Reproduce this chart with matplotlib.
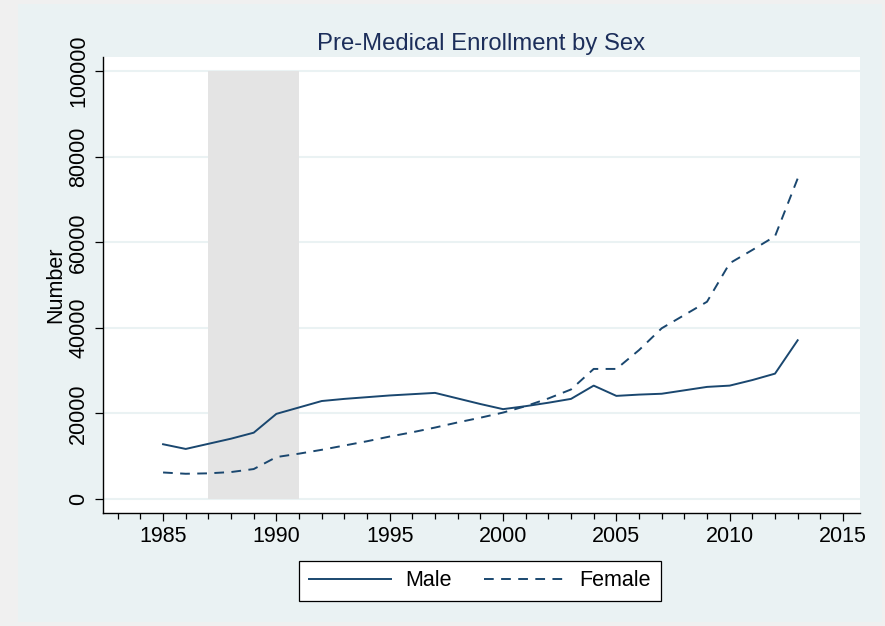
import matplotlib.pyplot as plt
from matplotlib.patches import Rectangle
from matplotlib.ticker import MultipleLocator

# --- Data ---------------------------------------------------------------------
years = list(range(1985, 2014))
male = [12.8, 11.7, 12.9, 14.1, 15.5, 19.9, 21.4, 22.9, 23.4, 23.8, 24.2,
        24.5, 24.8, 23.5, 22.2, 21.0, 21.7, 22.5, 23.4, 26.5, 24.1, 24.4,
        24.6, 25.4, 26.2, 26.5, 27.8, 29.3, 37.1]
female = [6.2, 5.9, 6.0, 6.3, 7.0, 9.8, 10.6, 11.5, 12.5, 13.5, 14.6, 15.6,
          16.7, 17.9, 19.0, 20.2, 21.7, 23.5, 25.6, 30.4, 30.4, 34.8, 39.9,
          43.0, 46.1, 55.1, 58.2, 61.4, 74.9]
male = [v * 1000 for v in male]
female = [v * 1000 for v in female]
shade_span = (1987, 1991)
shade_top = 100000

# --- Style --------------------------------------------------------------------
plt.rcParams['font.family'] = ['Liberation Sans', 'DejaVu Sans']
navy = "#1a476f"
title_navy = "#1c2e5a"
bg_blue = "#eaf2f3"
fs = 15.5

W, H = 885, 626
fig = plt.figure(figsize=(W / 100, H / 100), dpi=100, facecolor="#f0f0f0")
fig.patches.append(Rectangle((18 / W, 4 / H), (882 - 18) / W, (622 - 4) / H,
                             transform=fig.transFigure, facecolor=bg_blue,
                             edgecolor="none", zorder=-5))

ax = fig.add_axes([103 / W, (H - 513) / H, (860 - 103) / W, (513 - 57) / H])
ax.set_zorder(2)
ax.set_facecolor("white")

# shaded band, 0..shade_top
ax.fill_between(shade_span, 0, shade_top, facecolor="#e4e4e4", edgecolor="none", zorder=1)

ax.plot(years, male, color=navy, lw=1.4, label="Male", zorder=3)
ax.plot(years, female, color=navy, lw=1.4, dashes=(5.0, 3.8), label="Female", zorder=3)

ax.set_xlim(1982.35, 2015.75)
ax.set_ylim(-3270, 103300)
ax.xaxis.set_major_locator(MultipleLocator(5))
ax.xaxis.set_minor_locator(MultipleLocator(1))
ax.set_yticks(range(0, 100001, 20000))
ax.yaxis.grid(True, color=bg_blue, lw=1.5, zorder=0)
ax.set_axisbelow(True)

for s in ("top", "right"):
    ax.spines[s].set_visible(False)
for s in ("left", "bottom"):
    ax.spines[s].set_linewidth(1.0)
    ax.spines[s].set_color("black")

ax.tick_params(axis="both", which="major", length=6, width=0.9, labelsize=fs, direction="out")
ax.tick_params(axis="x", which="minor", length=4, width=0.9)
ax.tick_params(axis="y", pad=4)
for lab in ax.get_yticklabels():
    lab.set_rotation(90)
    lab.set_va("center")

ax.set_ylabel("Number", fontsize=fs, labelpad=1)
ax.set_title("Pre-Medical Enrollment by Sex", fontsize=17.2, color=title_navy, pad=5)

leg = fig.legend(loc="center", bbox_to_anchor=(480 / W, (H - 581) / H), ncol=2,
                 fontsize=fs, frameon=True, fancybox=False, framealpha=1,
                 handlelength=3.8, columnspacing=1.5, borderpad=0.45,
                 handletextpad=0.65, borderaxespad=0)
leg.get_frame().set_edgecolor("black")
leg.get_frame().set_linewidth(0.9)
leg.get_frame().set_facecolor("white")

fig.savefig("out.png", dpi=100, facecolor=fig.get_facecolor())
